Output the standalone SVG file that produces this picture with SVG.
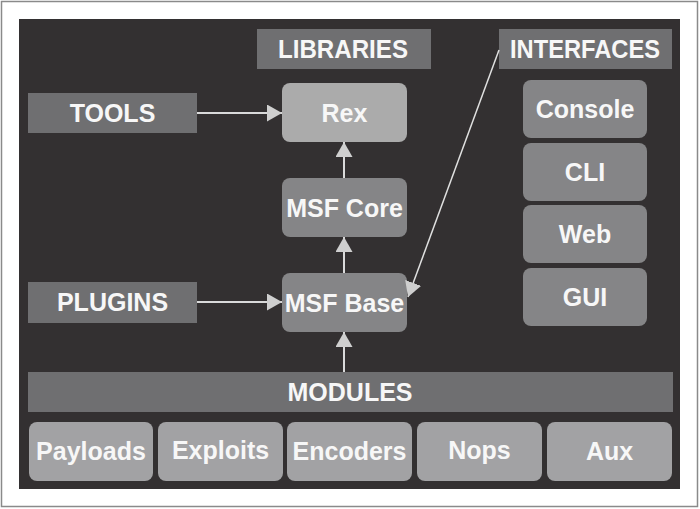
<svg xmlns="http://www.w3.org/2000/svg" width="700" height="509" viewBox="0 0 700 509">
<style>
.lbl{fill:#6f6f71}
.mid{fill:#858587}
.lite{fill:#a2a2a4}
.rex{fill:#ababab}
text{font-family:"Liberation Sans",Arial,sans-serif;font-weight:bold;font-size:25px;fill:#f7f7f7;text-anchor:middle}
.conn{stroke:#dadada;stroke-width:2;fill:none}
.thin{stroke:#e0e0e0;stroke-width:1.5;fill:none}
</style>
<defs>
<marker id="ah" markerUnits="userSpaceOnUse" markerWidth="16" markerHeight="17" refX="15" refY="8.5" orient="auto">
<path d="M0,0 L15,8.5 L0,17 z" fill="#cfcfcf"/>
</marker>
</defs>
<rect x="0" y="0" width="700" height="509" fill="#ffffff"/>
<rect x="1.5" y="1.5" width="696" height="505" fill="none" stroke="#8a8a8a" stroke-width="1.5"/>
<rect x="19" y="19" width="661" height="470" fill="#333031"/>

<g id="libraries"><rect class="lbl" x="257" y="29" width="174" height="40"/><text x="343" y="58" textLength="130" lengthAdjust="spacingAndGlyphs">LIBRARIES</text></g>
<g id="interfaces"><rect class="lbl" x="499" y="29" width="173" height="40"/><text x="585" y="58" textLength="150" lengthAdjust="spacingAndGlyphs">INTERFACES</text></g>
<g id="tools"><rect class="lbl" x="28" y="93" width="169" height="40"/><text x="112.5" y="122">TOOLS</text></g>
<g id="plugins"><rect class="lbl" x="28" y="282" width="169" height="41"/><text x="112.5" y="311">PLUGINS</text></g>
<g id="rex"><rect class="rex" x="282" y="83" width="125" height="59" rx="8"/><text x="344.5" y="121.5">Rex</text></g>
<g id="msfcore"><rect class="mid" x="282" y="178" width="125" height="59" rx="8"/><text x="344.5" y="216.5">MSF Core</text></g>
<g id="msfbase"><rect class="mid" x="282" y="273" width="125" height="59" rx="8"/><text x="344.5" y="311.5">MSF Base</text></g>
<g id="console"><rect class="mid" x="523" y="80" width="124" height="58" rx="8"/><text x="585" y="118">Console</text></g>
<g id="cli"><rect class="mid" x="523" y="143" width="124" height="58" rx="8"/><text x="585" y="181">CLI</text></g>
<g id="web"><rect class="mid" x="523" y="205" width="124" height="58" rx="8"/><text x="585" y="243">Web</text></g>
<g id="gui"><rect class="mid" x="523" y="268" width="124" height="58" rx="8"/><text x="585" y="306">GUI</text></g>
<g id="modules"><rect class="lbl" x="28" y="372" width="645" height="40"/><text x="350" y="401">MODULES</text></g>
<g id="payloads"><rect class="lite" x="29" y="422" width="124" height="59" rx="8"/><text x="91" y="460">Payloads</text></g>
<g id="exploits"><rect class="lite" x="158" y="422" width="125" height="59" rx="8"/><text x="220.5" y="459">Exploits</text></g>
<g id="encoders"><rect class="lite" x="287" y="422" width="125" height="59" rx="8"/><text x="349.5" y="460">Encoders</text></g>
<g id="nops"><rect class="lite" x="417" y="422" width="125" height="59" rx="8"/><text x="479.5" y="459">Nops</text></g>
<g id="aux"><rect class="lite" x="547" y="422" width="125" height="59" rx="8"/><text x="609.5" y="460">Aux</text></g>

<g id="connectors">
<line class="conn" x1="197" y1="113" x2="282" y2="113" marker-end="url(#ah)"/>
<line class="conn" x1="344" y1="178" x2="344" y2="142" marker-end="url(#ah)"/>
<line class="conn" x1="344" y1="273" x2="344" y2="237" marker-end="url(#ah)"/>
<line class="conn" x1="197" y1="302" x2="282" y2="302" marker-end="url(#ah)"/>
<line class="conn" x1="344" y1="372" x2="344" y2="332" marker-end="url(#ah)"/>
<line class="thin" x1="499" y1="50" x2="408" y2="297" marker-end="url(#ah)"/>
</g>
</svg>
